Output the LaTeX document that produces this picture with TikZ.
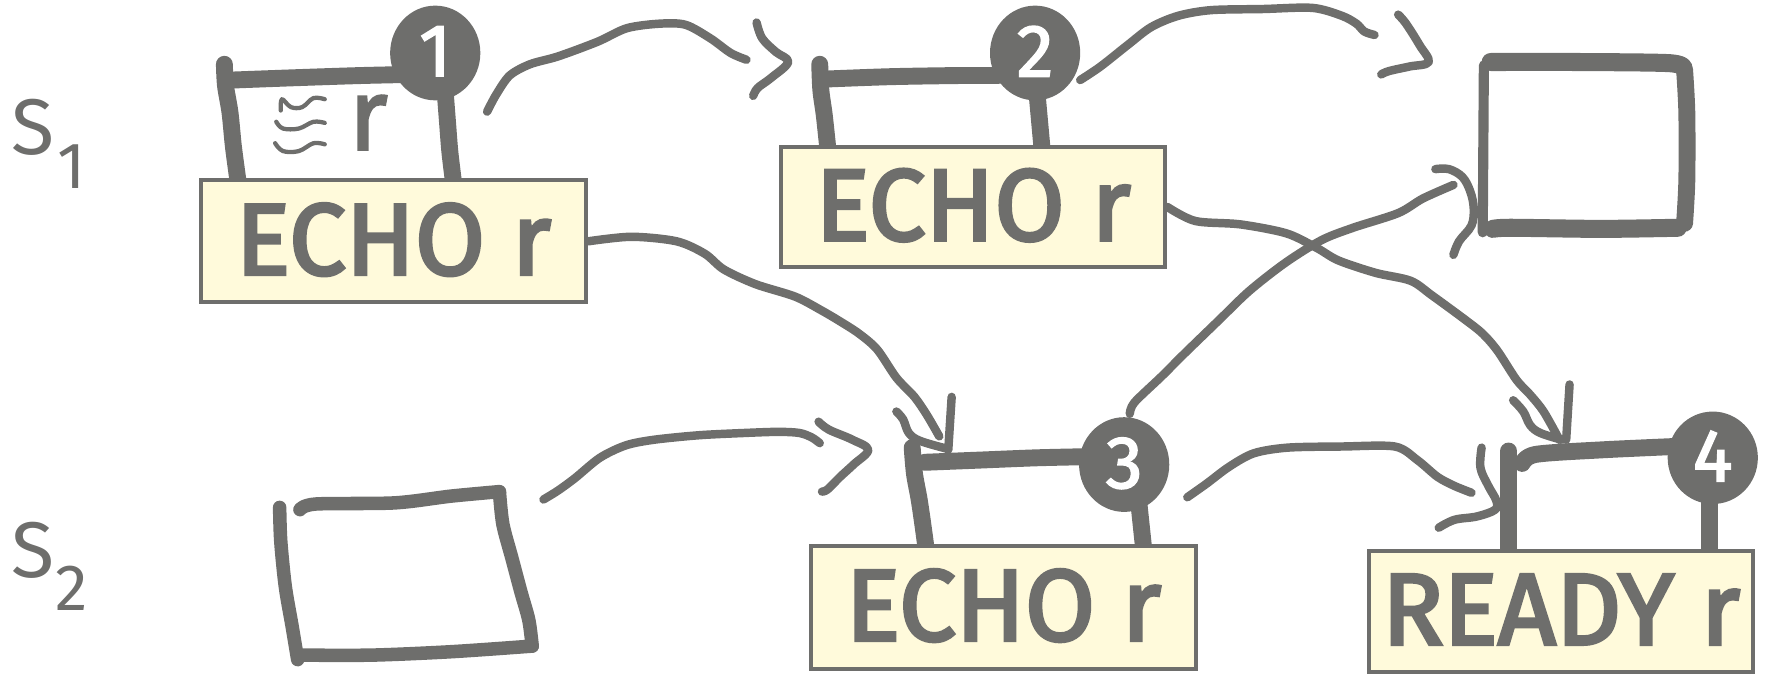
\documentclass[tikz,border=0pt]{standalone}
\usepackage{fontspec}
\setmainfont{Fira Sans}
\newfontfamily\heavyff{Fira Sans}[FakeBold=3.2]
\newfontfamily\medff{Fira Sans}[FakeBold=2]
\usetikzlibrary{shapes.geometric}
\definecolor{ink}{HTML}{6E6E6C}
\definecolor{note}{HTML}{FFFADB}
\newcommand\msgfont{\heavyff\fontsize{90}{96}\selectfont}
\newcommand\numfont{\medff\fontsize{66}{70}\selectfont}
\newcommand\procfont{\fontsize{70}{76}\selectfont}
\newcommand\subfont{\fontsize{58}{62}\selectfont}
\begin{document}
\begin{tikzpicture}[x=1pt,y=-1pt,
  conn/.style={draw=ink,line width=7.5,line cap=round,line join=round},
  thin/.style={draw=ink,line width=3.8,line cap=round,line join=round},
  bar/.style={draw=ink,line width=15,line cap=round,line join=round},
  msg/.style={draw=ink,fill=note,line width=3.5,inner sep=0pt,text=ink,font=\msgfont},
  dot/.style={ellipse,fill=ink,inner sep=0pt,minimum width=80,minimum height=84,text=white,font=\numfont},
  lbl/.style={text=ink,inner sep=0pt,anchor=base west}]
\useasboundingbox (0,0) rectangle (1568,601);

% process labels
\node[lbl,font=\procfont] (s1) at (10,137) {S};
\node[lbl,font=\subfont] (s1i) at (51,167) {1};
\node[lbl,font=\procfont] (s2) at (10,512) {S};
\node[lbl,font=\subfont] (s2i) at (49,541) {2};

% ---- frame 1 (process 1, sketch) ----
\draw[bar] plot[smooth] coordinates {(199,57) (200,76) (204,100) (207,130) (211,160)};
\draw[bar] plot[smooth] coordinates {(206,71) (260,69) (320,67) (365,66)};
\draw[bar] plot[smooth] coordinates {(395,84) (397,110) (399,135) (402,160)};
\node[dot] (d1) at (386,47) {\raisebox{3pt}{1}};
\draw[thin] plot[smooth,tension=0.6] coordinates {(249,98) (250,88) (258,95) (268,95) (278,87) (288,88)};
\draw[thin] plot[smooth,tension=0.6] coordinates {(245,108) (251,114) (265,114) (278,108) (288,109)};
\draw[thin] plot[smooth,tension=0.6] coordinates {(244,127) (251,134) (265,134) (278,127) (288,128)};
\node[lbl,text=ink,font={\medff\fontsize{90}{96}\selectfont}] (r1) at (309,133) {r};

% ---- frame 2 ----
\draw[bar] plot[smooth] coordinates {(727,57) (728,80) (731,102) (734,130)};
\draw[bar] plot[smooth] coordinates {(735,70) (790,68) (850,67) (885,67)};
\draw[bar] plot[smooth] coordinates {(920,86) (922,108) (924,130)};
\node[dot] (d2) at (918,47) {\raisebox{3pt}{2}};

% ---- frame 3 ----
\draw[bar] plot[smooth] coordinates {(809,397) (811,420) (815,442) (818,462) (821,484)};
\draw[bar] plot[smooth] coordinates {(820,410) (870,408) (920,406) (965,405)};
\draw[bar] plot[smooth] coordinates {(1010,446) (1012,465) (1014,484)};
\node[dot] (d3) at (997,412) {\raisebox{3pt}{3}};

% ---- frame 4 ----
\draw[bar] (1338,400) -- (1338,488);
\draw[bar] plot[smooth] coordinates {(1350,411) (1362,403) (1420,399) (1485,396)};
\draw[bar] (1516,444) -- (1516,488);
\node[dot,minimum height=82] (d4) at (1519,406) {\raisebox{3pt}{4}};

% ---- empty frame, top right ----
\draw[draw=ink,line width=9,line cap=round] (1316,58) -- (1315,206);
\draw[bar,line width=16] plot[smooth] coordinates {(1322,55) (1400,55) (1480,56) (1493,60)};
\draw[bar,line width=15] plot[smooth] coordinates {(1494,62) (1496,100) (1496,160) (1494,198)};
\draw[bar,line width=16] plot[smooth] coordinates {(1324,203) (1340,202) (1420,203) (1488,202)};

% ---- empty frame, process 2 ----
\draw[bar,line width=12] plot[smooth] coordinates {(248,450) (249,480) (253,520) (259,555) (264,585)};
\draw[bar,line width=12] plot[smooth] coordinates {(266,452) (280,447) (350,446) (400,440) (443,436)};
\draw[bar,line width=12] plot[smooth] coordinates {(443,437) (446,465) (454,495) (462,525) (469,550) (472,573)};
\draw[bar,line width=12] plot[smooth] coordinates {(268,581) (330,581) (400,578) (472,573)};

% ---- message boxes ----
\node[msg,minimum width=342,minimum height=108] (b1) at (349,214) {\raisebox{4pt}{ECHO r}};
\node[msg,minimum width=341,minimum height=107] (b2) at (863,183.5) {\raisebox{4pt}{ECHO r}};
\node[msg,minimum width=342,minimum height=109] (b3) at (890,538.5) {\raisebox{4pt}{ECHO r}};
\node[msg,minimum width=341,minimum height=107] (b4) at (1384.5,542.5) {\raisebox{4pt}{READY r}};

% ---- connectors ----
\draw[conn] plot[smooth] coordinates {(432,99) (440,84) (452,67) (470,57) (495,50) (530,37) (556,25) (585,21) (608,22) (630,34) (648,47) (662,53)};
\draw[conn] plot[smooth,tension=0.6] coordinates {(671,20) (676,34) (688,46) (699,55) (684,69) (672,78) (668,85)};

\draw[conn] plot[smooth] coordinates {(958,71) (976,59) (1000,40) (1021,24) (1045,14) (1074,9) (1120,8) (1164,7) (1190,14) (1203,21) (1210,28) (1219,31)};
\draw[conn] plot[smooth,tension=0.6] coordinates {(1240,13) (1247,21) (1259,40) (1267,55) (1250,59) (1232,63) (1225,66)};

\draw[conn] plot[smooth] coordinates {(b1.east) (560,210) (600,214) (625,225) (642,239) (670,252) (705,263) (728,275) (745,285) (762,296) (778,310) (795,335) (811,352) (822,368) (833,387)};
\draw[conn] plot[smooth,tension=0.6] coordinates {(795,365) (801,372) (806,384) (816,391) (840,398)};
\draw[conn] (844,352) -- (841,399);

\draw[conn] plot[smooth] coordinates {(482,443) (495,435) (510,424) (532,406) (555,395) (580,390) (620,386) (660,384) (690,383) (709,384) (720,388) (727,393)};
\draw[conn] plot[smooth,tension=0.6] coordinates {(726,374) (735,381) (756,390) (770,399) (757,412) (745,423) (734,434) (729,436)};

\draw[conn] plot[smooth] coordinates {(b2.east) (1060,196) (1100,199) (1141,207) (1168,220) (1187,231) (1220,242) (1251,249) (1270,262) (1300,284) (1315,296) (1328,311) (1345,337) (1357,350) (1369,365) (1383,390)};
\draw[conn] plot[smooth,tension=0.6] coordinates {(1342,355) (1351,365) (1357,377) (1366,384) (1385,390)};
\draw[conn] (1392,341) -- (1389,390);

\draw[conn] plot[smooth] coordinates {(1002,367) (1006,357) (1030,334) (1050,314) (1081,284) (1108,258) (1140,233) (1172,213) (1200,202) (1240,189) (1262,176) (1289,164)};
\draw[conn] plot[smooth,tension=0.6] coordinates {(1273,150) (1285,150) (1297,157) (1304,170) (1307,185) (1305,200) (1294,214) (1289,226)};

\draw[conn] plot[smooth] coordinates {(1053,441) (1070,429) (1090,414) (1112,402) (1142,397) (1190,396) (1237,396) (1257,408) (1275,423) (1290,431) (1305,437)};
\draw[conn] plot[smooth,tension=0.6] coordinates {(1314,397) (1313,415) (1320,431) (1327,444) (1326,452) (1310,458) (1290,461) (1276,468)};
\end{tikzpicture}
\end{document}
